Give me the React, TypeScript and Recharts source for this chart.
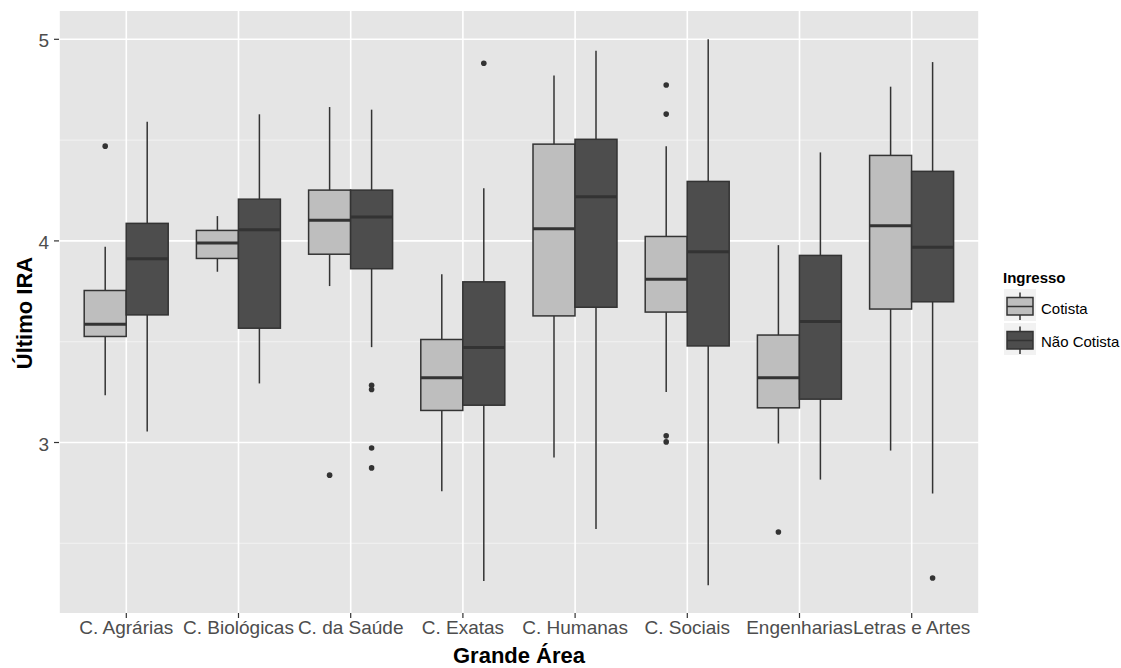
import React from 'react';
import { ComposedChart, Bar, XAxis, YAxis, CartesianGrid, Legend, Label } from 'recharts';

const categories = ['C. Agrárias', 'C. Biológicas', 'C. da Saúde', 'C. Exatas', 'C. Humanas', 'C. Sociais', 'Engenharias', 'Letras e Artes'];
const seriesNames = ['Cotista', 'Não Cotista'];
const yTicks = [3, 4, 5];
const yMinorTicks = [2.5, 3.5, 4.5];

// Cotista
const cotistaLow = [3.235, 3.847, 3.776, 2.758, 2.926, 3.25, 2.995, 2.96];
const cotistaQ1 = [3.526, 3.913, 3.934, 3.159, 3.628, 3.647, 3.172, 3.662];
const cotistaMed = [3.587, 3.989, 4.103, 3.321, 4.06, 3.81, 3.321, 4.075];
const cotistaQ3 = [3.754, 4.052, 4.252, 3.511, 4.48, 4.022, 3.533, 4.424];
const cotistaHigh = [3.971, 4.123, 4.664, 3.835, 4.821, 4.47, 3.979, 4.765];
const cotistaOutliers = [[4.47], [], [2.838], [], [], [4.773, 4.629, 3.033, 3.003], [2.556], []];

// Não Cotista
const naoLow = [3.055, 3.293, 3.473, 2.313, 2.571, 2.292, 2.816, 2.747];
const naoQ1 = [3.633, 3.567, 3.862, 3.185, 3.671, 3.479, 3.215, 3.698];
const naoMed = [3.911, 4.055, 4.118, 3.471, 4.219, 3.946, 3.6, 3.968];
const naoQ3 = [4.087, 4.207, 4.252, 3.797, 4.504, 4.295, 3.928, 4.345];
const naoHigh = [4.591, 4.628, 4.651, 4.261, 4.943, 5.0, 4.439, 4.887];
const naoOutliers = [[], [], [3.284, 3.263, 2.973, 2.874], [4.881], [], [], [], [2.328]];

const data = categories.map((cat, i) => ({
  cat,
  cRange: [cotistaLow[i], cotistaHigh[i]],
  c: { low: cotistaLow[i], q1: cotistaQ1[i], med: cotistaMed[i], q3: cotistaQ3[i], high: cotistaHigh[i], out: cotistaOutliers[i] },
  nRange: [naoLow[i], naoHigh[i]],
  n: { low: naoLow[i], q1: naoQ1[i], med: naoMed[i], q3: naoQ3[i], high: naoHigh[i], out: naoOutliers[i] },
}));

const OUT = '#333333';
const FILL_C = '#BEBEBE';
const FILL_N = '#4D4D4D';
const FONT = '"Liberation Sans", Arial, sans-serif';

function makeBoxShape(key: 'c' | 'n', fill: string) {
  return (props: any) => {
    const { x, y, width, height, payload } = props;
    const s = payload[key];
    const top = Math.min(y, y + height);
    const h = Math.abs(height);
    const py = (v: number) => top + ((s.high - v) / (s.high - s.low)) * h;
    const cx = x + width / 2;
    return (
      <g>
        <line x1={cx} x2={cx} y1={py(s.high)} y2={py(s.q3)} stroke={OUT} strokeWidth={1.5} />
        <line x1={cx} x2={cx} y1={py(s.q1)} y2={py(s.low)} stroke={OUT} strokeWidth={1.5} />
        <rect x={x} y={py(s.q3)} width={width} height={py(s.q1) - py(s.q3)} fill={fill} stroke={OUT} strokeWidth={1.5} />
        <line x1={x} x2={x + width} y1={py(s.med)} y2={py(s.med)} stroke={OUT} strokeWidth={3} />
        {s.out.map((v: number, j: number) => (
          <circle key={j} cx={cx} cy={py(v)} r={2.8} fill={OUT} />
        ))}
      </g>
    );
  };
}

const XTick = (props: any) => {
  const { x, y, payload } = props;
  return (
    <text x={x} y={y + 13.5} textAnchor="middle" fill="#4D4D4D" fontSize={19} fontFamily={FONT}>
      {payload.value}
    </text>
  );
};

const YTick = (props: any) => {
  const { x, y, payload } = props;
  return (
    <text x={x} y={y + 8} textAnchor="end" fill="#4D4D4D" fontSize={19} fontFamily={FONT}>
      {payload.value}
    </text>
  );
};

const LegendKey = ({ top, fill }: { top: number; fill: string }) => (
  <g>
    <rect x={9} y={top} width={32} height={32} fill="#F2F2F2" />
    <line x1={25} x2={25} y1={top + 3.5} y2={top + 31} stroke={OUT} strokeWidth={1.5} />
    <rect x={12} y={top + 8.5} width={26} height={17.5} fill={fill} stroke={OUT} strokeWidth={1.5} />
    <line x1={12} x2={38} y1={top + 17.5} y2={top + 17.5} stroke={OUT} strokeWidth={1.5} />
  </g>
);

const renderLegend = () => (
  <svg width={126} height={100} style={{ display: 'block' }}>
    <text x={8} y={21} fontSize={15} fontWeight="bold" fontFamily={FONT} fill="#000">Ingresso</text>
    <LegendKey top={27} fill={FILL_C} />
    <text x={46} y={51.5} fontSize={15} fontFamily={FONT} fill="#000">{seriesNames[0]}</text>
    <LegendKey top={61} fill={FILL_N} />
    <text x={46} y={84.5} fontSize={15} fontFamily={FONT} fill="#000">{seriesNames[1]}</text>
  </svg>
);

export default function App() {
  return (
    <div style={{ position: 'absolute', left: 0, top: 0, width: 1121, height: 668, background: '#fff' }}>
      <ComposedChart width={1121} height={668} data={data} margin={{ top: 11, right: 142, bottom: 0, left: 0 }} barGap={0}>
        <CartesianGrid fill="#E5E5E5" stroke="#F2F2F2" strokeWidth={1} vertical={false} horizontalValues={yMinorTicks} />
        <CartesianGrid stroke="#FFFFFF" strokeWidth={1.6} horizontalValues={yTicks} />
        <XAxis
          dataKey="cat"
          type="category"
          padding={{ left: 11.2, right: 11.2 }}
          height={55}
          tickLine={{ stroke: OUT, strokeWidth: 1.2 }}
          tickSize={5}
          axisLine={false}
          interval={0}
          tick={<XTick />}
        >
          <Label
            content={(p: any) => {
              const vb = p.viewBox;
              return (
                <text x={vb.x + vb.width / 2} y={663} textAnchor="middle" fontSize={22} fontWeight="bold" fontFamily={FONT} fill="#000">
                  Grande Área
                </text>
              );
            }}
          />
        </XAxis>
        <YAxis
          type="number"
          domain={[2.1543, 5.1404]}
          ticks={yTicks}
          allowDataOverflow
          width={59}
          axisLine={false}
          tickLine={{ stroke: OUT, strokeWidth: 1.2 }}
          tickSize={5}
          tickMargin={5}
          tick={<YTick />}
        >
          <Label
            content={() => (
              <text x={32} y={313} transform="rotate(-90, 32, 313)" textAnchor="middle" fontSize={22} fontWeight="bold" fontFamily={FONT} fill="#000">
                Último IRA
              </text>
            )}
          />
        </YAxis>
        <Legend
          layout="vertical"
          align="center"
          verticalAlign="middle"
          wrapperStyle={{ left: 995, top: 262, width: 126, height: 100 }}
          content={renderLegend}
        />
        <Bar dataKey="cRange" name={seriesNames[0]} barSize={42} fill={FILL_C} isAnimationActive={false} shape={makeBoxShape('c', FILL_C)} />
        <Bar dataKey="nRange" name={seriesNames[1]} barSize={42} fill={FILL_N} isAnimationActive={false} shape={makeBoxShape('n', FILL_N)} />
      </ComposedChart>
    </div>
  );
}
